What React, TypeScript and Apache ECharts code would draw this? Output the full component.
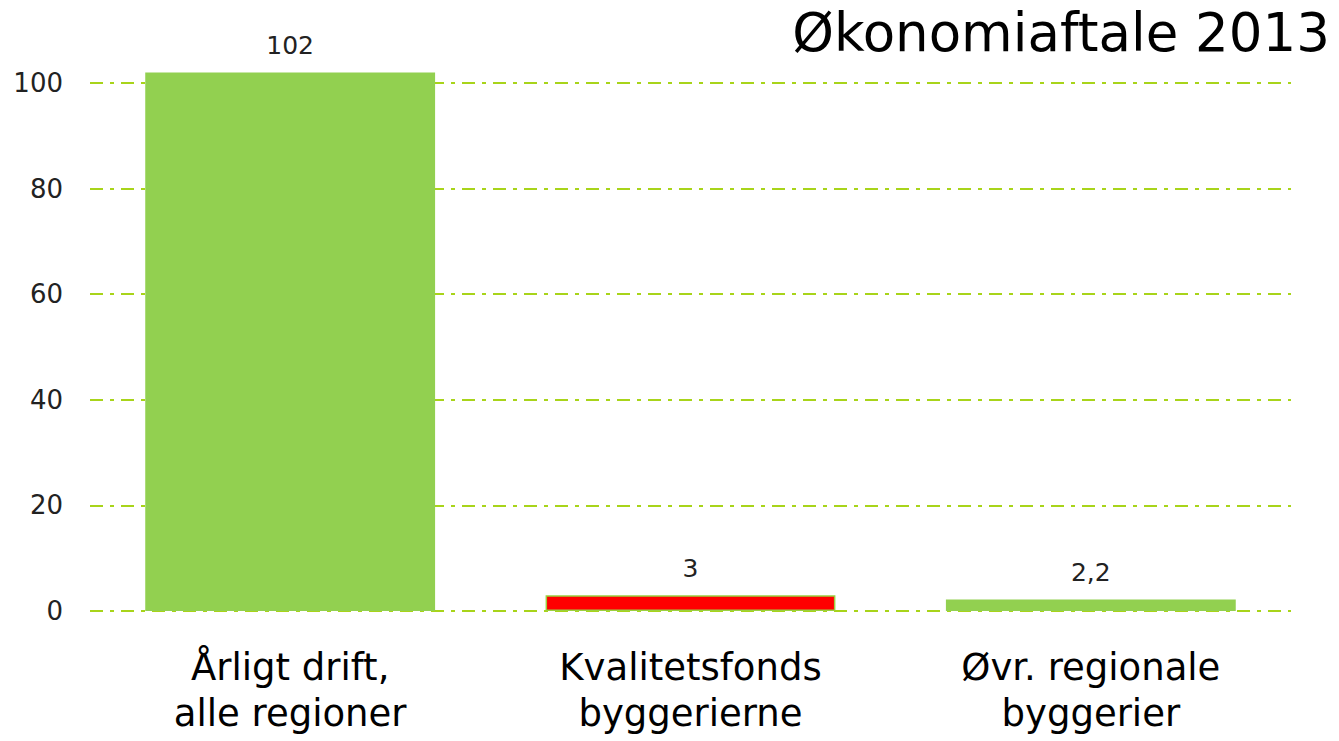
import React, { useEffect, useRef } from "react";
import * as echarts from "echarts";

const categories = ["Årligt drift,\nalle regioner", "Kvalitetsfonds\nbyggerierne", "Øvr. regionale\nbyggerier"];
const values = [102, 3, 2.2];
const barColors = ["#92D050", "#FF0000", "#92D050"];
const yTicks = [0, 20, 40, 60, 80, 100];
const title = "Økonomiaftale 2013";

export default function App() {
  const ref = useRef<HTMLDivElement>(null);
  useEffect(() => {
    if (!ref.current) return;
    const chart = echarts.init(ref.current, null, { renderer: "svg" });
    const font = "DejaVu Sans, Verdana, sans-serif";
    chart.setOption({
      animation: false,
      title: {
        text: title,
        right: 4,
        top: 1,
        textStyle: { fontFamily: font, fontSize: 53, fontWeight: "normal", color: "#000" },
      },
      grid: { left: 90, right: 48, top: 83, bottom: 130 },
      xAxis: {
        type: "category",
        data: categories,
        axisLine: { show: false },
        axisTick: { show: false },
        axisLabel: {
          fontFamily: font,
          fontSize: 37,
          color: "#000",
          lineHeight: 46,
          margin: 33,
          interval: 0,
        },
      },
      yAxis: {
        type: "value",
        min: yTicks[0],
        max: yTicks[yTicks.length - 1],
        interval: 20,
        axisLine: { show: false },
        axisTick: { show: false },
        axisLabel: { fontFamily: font, fontSize: 26, color: "#222", margin: 27 },
        splitLine: {
          lineStyle: { color: "#A8D41A", width: 2, type: [13, 7, 4, 7] },
        },
      },
      series: [
        {
          type: "bar",
          clip: false,
          barWidth: "72.4%",
          data: values.map((v, i) => ({
            value: v,
            itemStyle: {
              color: barColors[i],
              borderColor: i === 1 ? "#9BD040" : undefined,
              borderWidth: i === 1 ? 1.5 : 0,
            },
          })),
          label: {
            show: true,
            position: "top",
            distance: 14,
            fontFamily: font,
            fontSize: 25,
            color: "#222",
            formatter: (p: any) => String(p.value).replace(".", ","),
          },
        },
      ],
    });
    return () => chart.dispose();
  }, []);
  return (
    <div
      ref={ref}
      style={{ position: "absolute", left: 0, top: 0, width: 1339, height: 741 }}
    />
  );
}
